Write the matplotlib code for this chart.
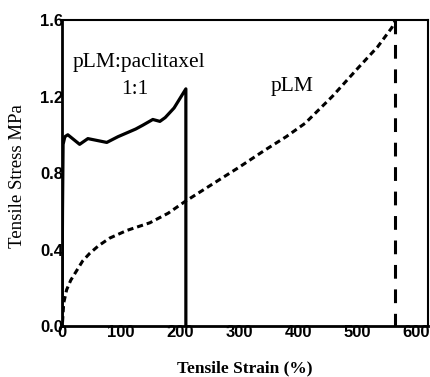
import matplotlib
matplotlib.use("Agg")
import matplotlib.pyplot as plt

# pLM:paclitaxel 1:1 (solid)
drug_strain = [0, 1, 2, 5, 10, 18, 30, 44, 60, 76, 95, 110, 125, 137, 154, 166, 175, 190, 200, 210, 210]
drug_stress = [0, 0.60, 0.95, 0.99, 1.00, 0.98, 0.95, 0.98, 0.97, 0.96, 0.99, 1.01, 1.03, 1.05, 1.08, 1.07, 1.09, 1.14, 1.19, 1.24, 0.0]

# pLM (dashed)
plm_strain = [1, 3, 8, 15, 25, 35, 47, 62, 81, 110, 149, 180, 208, 259, 300, 344, 380, 412, 458, 502, 535, 559, 565]
plm_stress = [0.02, 0.12, 0.19, 0.24, 0.29, 0.34, 0.38, 0.42, 0.46, 0.50, 0.54, 0.59, 0.65, 0.75, 0.83, 0.92, 0.99, 1.06, 1.20, 1.35, 1.46, 1.56, 1.60]
plm_break = 565

fig = plt.figure(figsize=(4.3, 3.77), dpi=100)
ax = fig.add_axes([0.144, 0.135, 0.851, 0.812])

ax.plot(drug_strain, drug_stress, color="black", lw=2.3, solid_joinstyle="round")
ax.plot(plm_strain, plm_stress, color="black", lw=2.2, dashes=(2.0, 1.3))
ax.plot([plm_break, plm_break], [1.6, 0], color="black", lw=2.2, dashes=(4.5, 3.5))

ax.set_xlim(0, 620)
ax.set_ylim(0, 1.6)
ax.set_xticks([0, 100, 200, 300, 400, 500, 600])
ax.set_yticks([0.0, 0.4, 0.8, 1.2, 1.6])
ax.set_yticklabels(["0.0", "0.4", "0.8", "1.2", "1.6"])
ax.tick_params(length=0, pad=-1)
for lab in ax.get_xticklabels() + ax.get_yticklabels():
    lab.set_fontfamily("Liberation Sans")
    lab.set_fontweight("bold")
    lab.set_fontsize(12)

for side in ["left", "bottom"]:
    ax.spines[side].set_linewidth(2.0)
for side in ["top", "right"]:
    ax.spines[side].set_linewidth(1.5)

ax.set_xlabel("Tensile Strain (%)", fontfamily="Liberation Serif", fontweight="bold", fontsize=12.5)
ax.set_ylabel("Tensile Stress MPa", fontfamily="Liberation Serif", fontsize=13.5)
ax.xaxis.set_label_coords(0.5, -0.112)
ax.yaxis.set_label_coords(-0.097, 0.49)

ax.text(131, 1.38, "pLM:paclitaxel", fontfamily="Liberation Serif", fontsize=15.5, ha="center", va="center")
ax.text(124, 1.235, "1:1", fontfamily="Liberation Serif", fontsize=15.5, ha="center", va="center")
ax.text(390, 1.25, "pLM", fontfamily="Liberation Serif", fontsize=15.5, ha="center", va="center")

fig.savefig("out.png", dpi=100)
